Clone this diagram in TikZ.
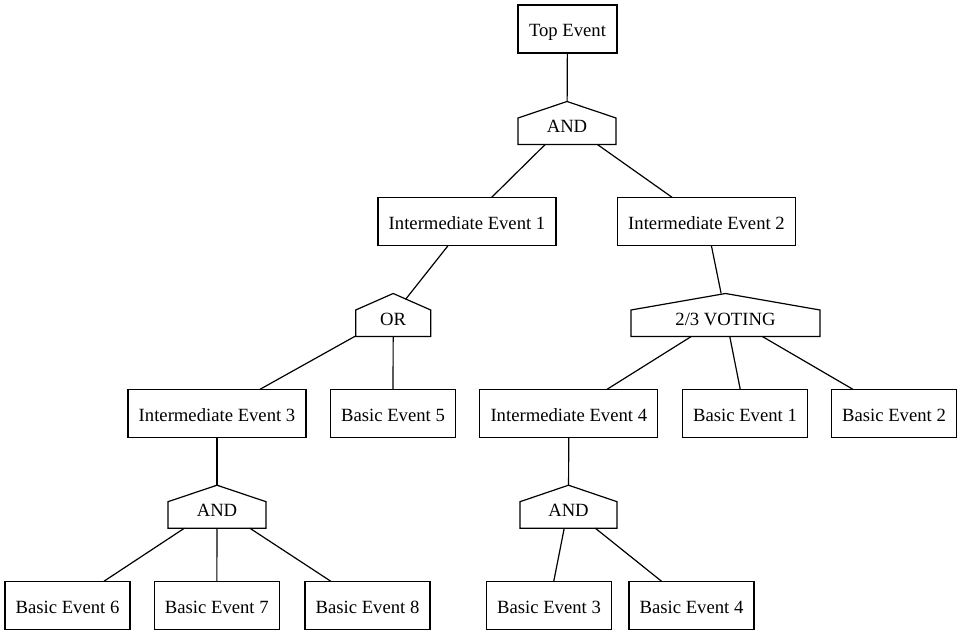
\documentclass[tikz,border=0pt]{standalone}
\usepackage{fontspec}
\setmainfont{Liberation Serif}
\tikzset{
  evento/.style={draw, rectangle, minimum height=48bp, inner sep=0pt, outer sep=0pt, text height=15.4bp, text depth=0pt},
  puerta/.style={rectangle, minimum height=43bp, inner sep=0pt, outer sep=0pt, text height=20bp, text depth=0pt},
}
% puerta con tejado: nombre, posicion, ancho, texto
\newcommand{\compuerta}[4]{%
  \node[puerta, minimum width=#3] (#1) at #2 {#4};
  \draw ([yshift=-16.5bp]#1.north west) -- (#1.north) -- ([yshift=-16.5bp]#1.north east)
    -- (#1.south east) -- (#1.south west) -- cycle;
}

\begin{document}
\begin{tikzpicture}[x=1bp, y=-1bp, line width=1.2bp, font=\fontsize{18.67bp}{22bp}\selectfont]
  \useasboundingbox (0,0) rectangle (962,635);
  % eventos
  \node[evento, minimum width=99bp] (top) at (567.5,29) {Top Event};
  \node[evento, minimum width=178bp] (ie1) at (467,221.7) {Intermediate Event 1};
  \node[evento, minimum width=178bp] (ie2) at (706.5,221.7) {Intermediate Event 2};
  \node[evento, minimum width=178bp] (ie3) at (217,413.3) {Intermediate Event 3};
  \node[evento, minimum width=125bp] (be5) at (393,413.3) {Basic Event 5};
  \node[evento, minimum width=178bp] (ie4) at (568.8,413.3) {Intermediate Event 4};
  \node[evento, minimum width=125bp] (be1) at (745,413.3) {Basic Event 1};
  \node[evento, minimum width=125bp] (be2) at (894,413.3) {Basic Event 2};
  \node[evento, minimum width=125bp] (be6) at (67.5,605.3) {Basic Event 6};
  \node[evento, minimum width=125bp] (be7) at (216.8,605.3) {Basic Event 7};
  \node[evento, minimum width=125bp] (be8) at (367.5,605.3) {Basic Event 8};
  \node[evento, minimum width=125bp] (be3) at (549,605.3) {Basic Event 3};
  \node[evento, minimum width=125bp] (be4) at (691.5,605.3) {Basic Event 4};
  % puertas
  \compuerta{andt}{(567,123)}{98bp}{AND}
  \compuerta{or}{(393.2,315)}{75bp}{OR}
  \compuerta{vot}{(725.5,315)}{189bp}{2/3 VOTING}
  \compuerta{andl}{(217,506.7)}{98bp}{AND}
  \compuerta{andr}{(568.5,506.7)}{97bp}{AND}
  % aristas
  \draw (top) -- (andt);
  \draw (andt) -- (ie1);
  \draw (andt) -- (ie2);
  \draw[shorten >=-7.5bp] (ie1) -- (or);
  \draw (ie2) -- (vot);
  \draw (or) -- (ie3);
  \draw (or) -- (be5);
  \draw (vot) -- (ie4);
  \draw (vot) -- (be1);
  \draw (vot) -- (be2);
  \draw (ie3) -- (andl);
  \draw (ie4) -- (andr);
  \draw (andl) -- (be6);
  \draw (andl) -- (be7);
  \draw (andl) -- (be8);
  \draw (andr) -- (be3);
  \draw (andr) -- (be4);
\end{tikzpicture}
\end{document}
